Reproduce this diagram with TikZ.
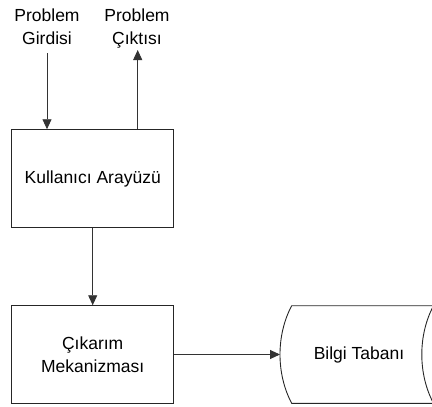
\documentclass[tikz,border=0pt]{standalone}
\usepackage{fontspec}
\setmainfont{Liberation Sans}
\usetikzlibrary{arrows.meta}
\begin{document}
\begin{tikzpicture}[x=1pt,y=-1pt,
  line width=0.9pt,
  every node/.style={font=\fontsize{17.5}{23}\selectfont, inner sep=0pt, align=center},
  proc/.style={draw=black!85, minimum width=162pt, minimum height=97.6pt},
  flow/.style={draw=black!80, -{Triangle[length=10pt,width=9pt]}},
  lbl/.style={text=black}]
  \useasboundingbox (0,0) rectangle (432,407);

  % processing blocks
  \node[proc] (ui) at (92.7,178.5) {Kullanıcı Arayüzü};
  \node[proc] (ie) at (92.7,354.5) {Çıkarım\\Mekanizması};

  % knowledge base drawn as a stored-data shape, cut at the right edge
  \begin{scope}
    \clip (0,0) rectangle (432,407);
    \draw[black!85] (433.5,305.7) -- (291.7,305.7)
      .. controls (276.1,335) and (276.1,374) .. (291.7,403.3)
      -- (433.5,403.3);
    \draw[black!85] (433.5,305.7)
      .. controls (417.9,335) and (417.9,374) .. (433.5,403.3);
  \end{scope}
  \node[lbl] (kb) at (359,354.5) {Bilgi Tabanı};
  \coordinate (kbin) at (280,354.5);

  % external input and output labels
  \node[lbl] (pin) at (47,27) {Problem\\Girdisi};
  \node[lbl] (pout) at (137,29) {Problem\\Çıktısı};
  \coordinate (pinEnd) at (47,53);
  \coordinate (poutEnd) at (137.7,50);

  % connectors
  \draw[flow] (pinEnd) -- (ui.north -| pinEnd);
  \draw[flow] (ui.north -| poutEnd) -- (poutEnd);
  \draw[flow] (ui.south) -- (ie.north);
  \draw[flow] (ie.east) -- (kbin);
\end{tikzpicture}
\end{document}
